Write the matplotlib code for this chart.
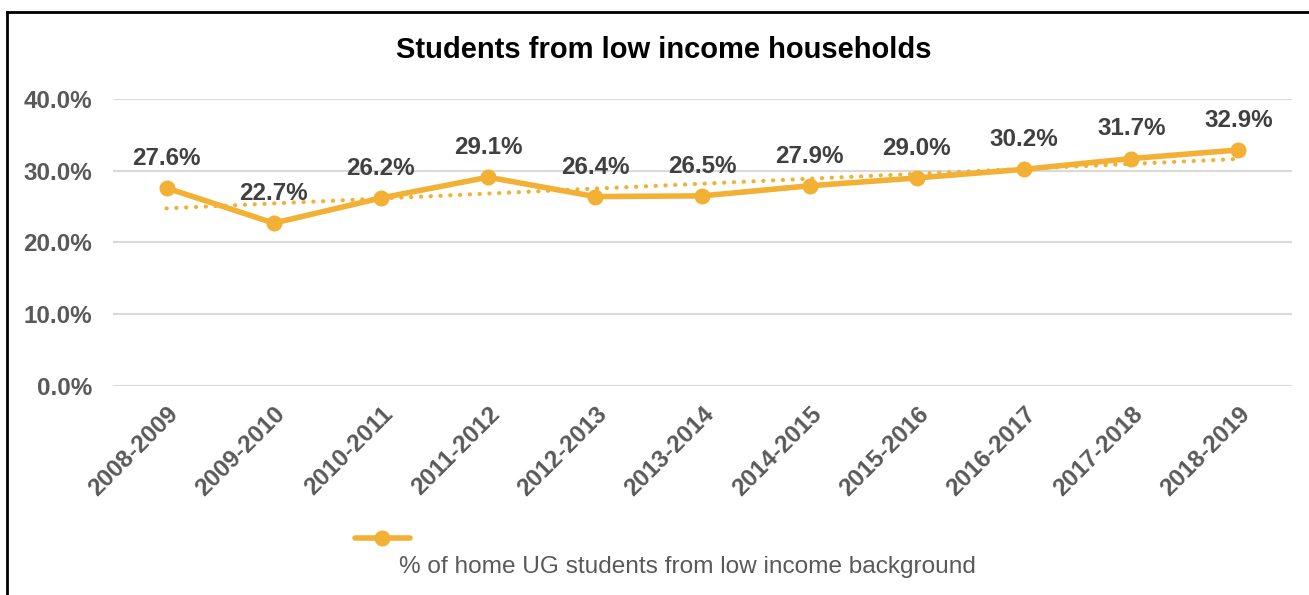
import numpy as np
import matplotlib.pyplot as plt
from matplotlib.lines import Line2D

plt.rcParams['font.family'] = ['Liberation Sans', 'DejaVu Sans']

# data
years = ["2008-2009", "2009-2010", "2010-2011", "2011-2012", "2012-2013", "2013-2014",
         "2014-2015", "2015-2016", "2016-2017", "2017-2018", "2018-2019"]
pct = [27.6, 22.7, 26.2, 29.1, 26.4, 26.5, 27.9, 29.0, 30.2, 31.7, 32.9]
yticks = [0, 10, 20, 30, 40]

gold = "#F2B134"
x = np.arange(len(years))

fig = plt.figure(figsize=(13.09, 5.95), dpi=100)
ax = fig.add_axes([0.0863, 0.3513, 0.9007, 0.4823])

# linear trendline (round dots)
coef = np.polyfit(x, pct, 1)
ax.plot(x, np.polyval(coef, x), color=gold, linestyle=(0, (0.05, 2.3)), linewidth=3,
        dash_capstyle="round", zorder=2)

ax.plot(x, pct, color=gold, linewidth=4, marker="o", markersize=10.5, zorder=3)

for xi, v in zip(x, pct):
    ax.annotate(f"{v:.1f}%", (xi, v), xytext=(0, 13), textcoords="offset points",
                ha="center", va="bottom", fontsize=17.4, fontweight="bold", color="#404040")

ax.set_xlim(-0.5, len(years) - 0.5)
ax.set_ylim(0, 40)
ax.set_yticks(yticks)
ax.set_yticklabels([f"{t:.1f}%" for t in yticks], fontsize=17.4, fontweight="bold", color="#595959")
ax.set_xticks(x)
ax.set_xticklabels(years, rotation=45, ha="right", va="top", rotation_mode="anchor",
                   fontsize=17.4, fontweight="bold", color="#595959")
ax.tick_params(axis="y", length=0, pad=15)
ax.tick_params(axis="x", length=0, pad=12)
ax.grid(axis="y", color="#D9D9D9", linewidth=1.5)
ax.set_axisbelow(True)
for s in ax.spines.values():
    s.set_visible(False)

fig.text(664 / 1309, 1 - 50 / 595, "Students from low income households", ha="center", va="center",
         fontsize=21, fontweight="bold", color="black")

# legend drawn by hand: handle above, text below
fig.add_artist(Line2D([355 / 1309, 410 / 1309], [1 - 538 / 595] * 2, color=gold, linewidth=4,
                      solid_capstyle="round"))
fig.add_artist(Line2D([382 / 1309], [1 - 538 / 595], color=gold, marker="o", markersize=10.5))
fig.text(687.5 / 1309, 1 - 567 / 595, "% of home UG students from low income background",
         ha="center", va="center", fontsize=17.6, color="#595959")

# outer border (top and left visible)
fig.add_artist(Line2D([7 / 1309, 1.0], [1 - 12 / 595] * 2, color="black", linewidth=2))
fig.add_artist(Line2D([7 / 1309] * 2, [0, 1 - 12 / 595], color="black", linewidth=2))

fig.savefig("out.png", dpi=100)
